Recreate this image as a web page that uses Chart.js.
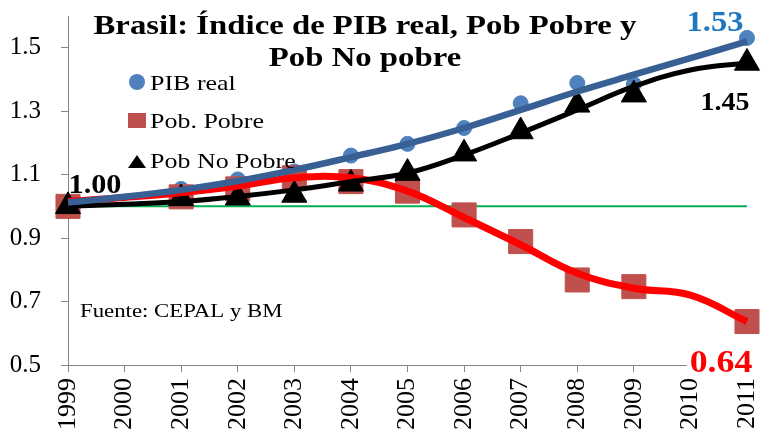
<!DOCTYPE html>
<html>
<head>
<meta charset="utf-8">
<script src="https://cdn.jsdelivr.net/npm/chart.js@4/dist/chart.umd.min.js"></script>
<style>
  html, body { margin: 0; padding: 0; background: #fff; }
  #wrap { width: 761px; height: 430px; }
</style>
</head>
<body>
<div id="wrap"><canvas id="chart" width="761" height="430"></canvas></div>
<script>
// ---------------- DATA ----------------

const years = ["1999", "2000", "2001", "2002", "2003", "2004", "2005", "2006", "2007", "2008", "2009", "2010", "2011"];

const pibReal    = [1.00, null, 1.055, 1.085, 1.11, 1.16, 1.197, 1.247, 1.325, 1.389, 1.385, null, 1.531];
const pobPobre   = [1.00, null, 1.03, 1.055, 1.09, 1.078, 1.048, 0.973, 0.889, 0.768, 0.747, null, 0.637];
const pobNoPobre = [1.00, null, 1.025, 1.027, 1.036, 1.071, 1.105, 1.166, 1.236, 1.32, 1.352, null, 1.452];

// trend lines
const pibTrend     = [1.012, 1.03, 1.052, 1.08, 1.115, 1.155, 1.197, 1.247, 1.304, 1.362, 1.415, 1.467, 1.52];
const pobreTrend   = [1.016, 1.028, 1.043, 1.064, 1.09, 1.09, 1.048, 0.965, 0.879, 0.789, 0.742, 0.72, 0.637];
const noPobreTrend = [1.0, 1.007, 1.015, 1.031, 1.052, 1.078, 1.105, 1.162, 1.231, 1.304, 1.378, 1.43, 1.452];

const refLine = [1, 1, 1, 1, 1, 1, 1, 1, 1, 1, 1, 1, 1];

const yTicks = [0.5, 0.7, 0.9, 1.1, 1.3, 1.5];

const seriesNames = ["PIB real", "Pob. Pobre", "Pob No Pobre"];
const titleLines = ["Brasil: Índice de PIB real, Pob Pobre y", "Pob No pobre"];
const sourceText = "Fuente: CEPAL y BM";

// ---------------- STYLE ----------------

const SERIF = "'Liberation Serif', 'Times New Roman', serif";
const AXIS = "#868686";
const C_PIB = "#4F81BD", C_PIB_T = "#386095";
const C_POB = "#C0504D", C_POB_T = "#FF0000";
const C_NO = "#000000";
const SX = 1.17; // the reference text is drawn a bit wide

function wideText(ctx, text, x, y, align, sx) {
  const w = ctx.measureText(text).width * sx;
  let left = x;
  if (align === "center") left = x - w / 2;
  if (align === "right") left = x - w;
  ctx.save();
  ctx.translate(left, y);
  ctx.scale(sx, 1);
  ctx.textAlign = "left";
  ctx.fillText(text, 0, 0);
  ctx.restore();
  return w;
}

function noPad(s) {
  s.paddingLeft = 0;
  s.paddingRight = 0;
  s.paddingTop = 0;
  s.paddingBottom = 0;
}

// ---------------- TEXT PLUGIN ----------------

const textPlugin = {
  id: "texts",
  afterDraw(chart) {
    const ctx = chart.ctx;
    const x = chart.scales.x, y = chart.scales.y;
    ctx.save();
    ctx.textBaseline = "alphabetic";

    // title
    ctx.fillStyle = "#000";
    ctx.font = "bold 28px " + SERIF;
    wideText(ctx, titleLines[0], 365, 34, "center", SX);
    wideText(ctx, titleLines[1], 365, 66, "center", SX);

    // legend
    const legY = [90, 128, 168];
    ctx.font = "22px " + SERIF;
    seriesNames.forEach((name, i) => {
      const mx = 137, my = legY[i] - 7;
      if (i === 0) {
        ctx.fillStyle = C_PIB;
        ctx.beginPath();
        ctx.arc(mx, my - 1, 8, 0, Math.PI * 2);
        ctx.fill();
      } else if (i === 1) {
        ctx.fillStyle = C_POB;
        ctx.fillRect(mx - 9, my - 8, 18, 15);
      } else {
        ctx.fillStyle = C_NO;
        ctx.beginPath();
        ctx.moveTo(mx, my - 6);
        ctx.lineTo(mx + 9, my + 7);
        ctx.lineTo(mx - 9, my + 7);
        ctx.closePath();
        ctx.fill();
      }
      ctx.fillStyle = "#000";
      wideText(ctx, name, 150, legY[i], "left", 1.18);
    });

    // source
    ctx.font = "19px " + SERIF;
    ctx.fillStyle = "#000";
    wideText(ctx, sourceText, 80, 317, "left", 1.2);

    // value labels
    const last = years.length - 1;
    const labels = [
      { v: pibReal[0], i: 0, color: "#000", size: 27, dx: 27, dy: -13, bg: false },
      { v: pibReal[last], i: last, color: "#1F77C0", size: 29, dx: -32, dy: -7, bg: false },
      { v: pobNoPobre[last], i: last, color: "#000", size: 25, dx: -22, dy: 47, bg: false },
      { v: pobPobre[last], i: last, color: "#FF0000", size: 32, dx: -26, dy: 50, bg: true }
    ];
    labels.forEach(l => {
      const px = x.getPixelForValue(l.i) + l.dx;
      const py = y.getPixelForValue(l.v) + l.dy;
      const txt = l.v.toFixed(2);
      ctx.font = "bold " + l.size + "px " + SERIF;
      const w = ctx.measureText(txt).width * 1.12;
      if (l.bg) {
        ctx.fillStyle = "#fff";
        ctx.fillRect(px - w / 2 - 3, py - l.size * 0.72, w + 6, l.size * 0.9);
      }
      ctx.fillStyle = l.color;
      wideText(ctx, txt, px, py, "center", 1.12);
    });

    ctx.restore();
  }
};

// ---------------- CHART ----------------

const ctx = document.getElementById("chart").getContext("2d");

const chart = new Chart(ctx, {
  type: "line",
  data: {
    labels: years,
    datasets: [
      { data: pibTrend, borderColor: C_PIB_T, borderWidth: 6.5, pointRadius: 0, tension: 0.4, clip: false },
      { data: noPobreTrend, borderColor: C_NO, borderWidth: 5, pointRadius: 0, tension: 0.4, clip: false },
      { data: pobreTrend, borderColor: C_POB_T, borderWidth: 7, pointRadius: 0, tension: 0.4, clip: false },
      { data: pobNoPobre, showLine: false, pointStyle: "triangle", pointRadius: 14.5,
        pointBackgroundColor: C_NO, pointBorderColor: C_NO, pointBorderWidth: 1, clip: false },
      { data: pobPobre, showLine: false, pointStyle: "rect", pointRadius: 17,
        pointBackgroundColor: C_POB, pointBorderColor: C_POB, pointBorderWidth: 1, clip: false },
      { data: pibReal, showLine: false, pointStyle: "circle", pointRadius: 7.5,
        pointBackgroundColor: C_PIB, pointBorderColor: C_PIB, pointBorderWidth: 1, clip: false },
      { data: refLine, borderColor: "#00B050", borderWidth: 2, pointRadius: 0, clip: false }
    ]
  },
  options: {
    responsive: false,
    animation: false,
    devicePixelRatio: 1,
    layout: { autoPadding: false, padding: { top: 16, right: 14, left: 0, bottom: 0 } },
    plugins: { legend: { display: false }, tooltip: { enabled: false } },
    scales: {
      x: {
        offset: false,
        grid: { display: true, drawOnChartArea: false, tickLength: 7, color: AXIS },
        border: { color: AXIS, width: 1 },
        ticks: {
          autoSkip: false, minRotation: 90, maxRotation: 90, padding: 6,
          color: "#000", font: { family: SERIF, size: 26 }
        },
        afterFit: s => { s.height = 65; noPad(s); }
      },
      y: {
        min: 0.5,
        max: 1.6,
        grid: { display: true, drawOnChartArea: false, tickLength: 7, color: AXIS },
        border: { color: AXIS, width: 1 },
        ticks: {
          padding: 20, color: "#000", font: { family: SERIF, size: 25 },
          callback: v => v.toFixed(1)
        },
        afterBuildTicks: s => { s.ticks = yTicks.map(v => ({ value: v })); },
        afterFit: s => { s.width = 68; noPad(s); }
      }
    }
  },
  plugins: [textPlugin]
});
</script>
</body>
</html>
